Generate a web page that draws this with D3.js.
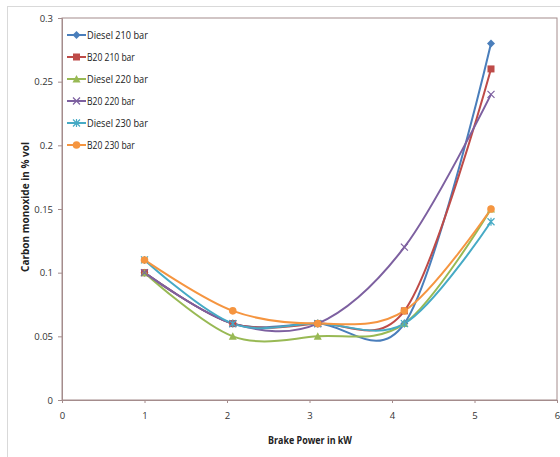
<!doctype html>
<html>
<head>
<meta charset="UTF-8" />
<title></title>
<script src="https://d3js.org/d3.v7.min.js"></script>
<style>
  body { margin: 0; background: #fff; }
  text { font-family: "Open Sans", "Noto Sans", sans-serif; }
</style>
</head>
<body>
<div id="container"></div>
<script>

// data
const power = [1.0, 2.07, 3.1, 4.15, 5.2];
const seriesNames = ["Diesel 210 bar", "B20 210 bar", "Diesel 220 bar", "B20 220 bar", "Diesel 230 bar", "B20 230 bar"];
const diesel210 = [0.10, 0.06, 0.06, 0.06, 0.28];
const b20_210 = [0.10, 0.06, 0.06, 0.07, 0.26];
const diesel220 = [0.10, 0.05, 0.05, 0.06, 0.15];
const b20_220 = [0.10, 0.06, 0.06, 0.12, 0.24];
const diesel230 = [0.11, 0.06, 0.06, 0.06, 0.14];
const b20_230 = [0.11, 0.07, 0.06, 0.07, 0.15];
const xTicks = [0, 1, 2, 3, 4, 5, 6];
const yTicks = [0, 0.05, 0.1, 0.15, 0.2, 0.25, 0.3];

const colors = ["#4a7ebb", "#be4b48", "#98b954", "#7d60a0", "#46aac5", "#f59540"];
const markers = ["diamond", "square", "triangle", "cross", "asterisk", "circle"];
const allValues = [diesel210, b20_210, diesel220, b20_220, diesel230, b20_230];

const width = 560, height = 457;
const marginLeft = 62, marginRight = 3, marginTop = 18, marginBottom = 57;

const x = d3.scaleLinear().domain([0, 6]).range([marginLeft, width - marginRight]);
const y = d3.scaleLinear().domain([0, 0.3]).range([height - marginBottom, marginTop]);

const svg = d3.create("svg").attr("width", width).attr("height", height);

// outer chart border
svg.append("rect")
    .attr("x", 7.5).attr("y", 6.5)
    .attr("width", width + 10).attr("height", height + 10)
    .attr("fill", "none").attr("stroke", "#d9d9d9");

const axisColor = "#a48c8c";

// plot area frame
svg.append("rect")
    .attr("x", x(0)).attr("y", y(0.3))
    .attr("width", x(6) - x(0)).attr("height", y(0) - y(0.3))
    .attr("fill", "none").attr("stroke", axisColor);

// x axis
const gx = svg.append("g")
    .attr("transform", `translate(0,${y(0)})`)
    .call(d3.axisBottom(x).tickValues(xTicks).tickFormat(d3.format("d")).tickSize(3).tickPadding(9));
gx.select(".domain").attr("stroke", axisColor);
gx.selectAll(".tick line").attr("stroke", axisColor);
gx.selectAll("text").attr("font-size", 9.5).attr("fill", "#333");

// y axis
const gy = svg.append("g")
    .attr("transform", `translate(${x(0)},0)`)
    .call(d3.axisLeft(y).tickValues(yTicks).tickFormat(d => d === 0 ? "0" : String(+d.toFixed(2))).tickSize(4).tickPadding(5));
gy.select(".domain").attr("stroke", axisColor);
gy.selectAll(".tick line").attr("stroke", axisColor);
gy.selectAll("text").attr("font-size", 9.5).attr("fill", "#333");

// axis titles
svg.append("text")
    .attr("x", 310).attr("y", 444)
    .attr("text-anchor", "middle")
    .attr("font-size", 10.5).attr("font-weight", "bold").attr("fill", "#222")
    .attr("textLength", 84).attr("lengthAdjust", "spacingAndGlyphs")
    .text("Brake Power in kW");

svg.append("text")
    .attr("transform", `translate(29,207) rotate(-90)`)
    .attr("text-anchor", "middle")
    .attr("font-size", 10.5).attr("font-weight", "bold").attr("fill", "#222")
    .attr("textLength", 130).attr("lengthAdjust", "spacingAndGlyphs")
    .text("Carbon monoxide in % vol");

function drawMarker(g, type, color) {
  if (type === "diamond") {
    g.append("path").attr("d", "M0,-4L4,0L0,4L-4,0Z").attr("fill", color);
  } else if (type === "square") {
    g.append("rect").attr("x", -3.5).attr("y", -3.5).attr("width", 7).attr("height", 7).attr("fill", color);
  } else if (type === "triangle") {
    g.append("path").attr("d", "M0,-4L4,3.5L-4,3.5Z").attr("fill", color);
  } else if (type === "cross") {
    g.append("path").attr("d", "M-3.5,-3.5L3.5,3.5M-3.5,3.5L3.5,-3.5").attr("stroke", color).attr("stroke-width", 1.2);
  } else if (type === "asterisk") {
    g.append("path").attr("d", "M-3.5,-3.5L3.5,3.5M-3.5,3.5L3.5,-3.5M0,-4L0,4").attr("stroke", color).attr("stroke-width", 1.2);
  } else {
    g.append("circle").attr("r", 3.8).attr("fill", color);
  }
}

const line = d3.line()
    .x((d, i) => x(power[i]))
    .y(d => y(d))
    .curve(d3.curveCatmullRom.alpha(0.1));

allValues.forEach((vals, s) => {
  svg.append("path")
      .datum(vals)
      .attr("fill", "none")
      .attr("stroke", colors[s])
      .attr("stroke-width", 2)
      .attr("d", line);
});

allValues.forEach((vals, s) => {
  vals.forEach((v, i) => {
    const g = svg.append("g").attr("transform", `translate(${x(power[i])},${y(v)})`);
    drawMarker(g, markers[s], colors[s]);
  });
});

// legend
const legend = svg.append("g").attr("transform", "translate(67,35)");
seriesNames.forEach((name, s) => {
  const g = legend.append("g").attr("transform", `translate(0,${s * 22})`);
  g.append("line").attr("x1", 0).attr("x2", 19).attr("stroke", colors[s]).attr("stroke-width", 2);
  drawMarker(g.append("g").attr("transform", "translate(9.5,0)"), markers[s], colors[s]);
  g.append("text").attr("x", 20).attr("y", 3.5)
      .attr("font-size", 10.5).attr("fill", "#222")
      .attr("textLength", name.length * 4.35).attr("lengthAdjust", "spacingAndGlyphs")
      .text(name);
});

container.append(svg.node());
</script>
</body>
</html>
